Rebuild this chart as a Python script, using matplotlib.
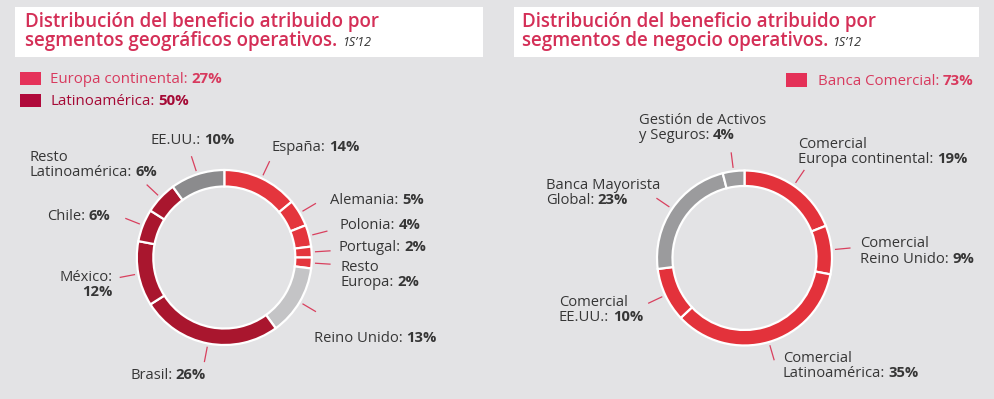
import matplotlib
matplotlib.use('Agg')
import matplotlib.pyplot as plt
from matplotlib.patches import Rectangle
import numpy as np

plt.rcParams['font.family'] = ['Open Sans', 'DejaVu Sans']

W, H = 994, 399

# ---- data ----
geo_names = ['España', 'Alemania', 'Polonia', 'Portugal', 'Resto\nEuropa',
             'Reino Unido', 'Brasil', 'México', 'Chile',
             'Resto\nLatinoamérica', 'EE.UU.']
geo_values = [14, 5, 4, 2, 2, 13, 26, 12, 6, 6, 10]
geo_groups = ['eu', 'eu', 'eu', 'eu', 'eu', 'uk', 'la', 'la', 'la', 'la', 'us']

biz_names = ['Comercial\nEuropa continental', 'Comercial\nReino Unido',
             'Comercial\nLatinoamérica', 'Comercial\nEE.UU.',
             'Banca Mayorista\nGlobal', 'Gestión de Activos\ny Seguros']
biz_values = [19, 9, 35, 10, 23, 4]
biz_groups = ['com', 'com', 'com', 'com', 'gbm', 'gbm']

geo_legend = [('Europa continental', 27), ('Latinoamérica', 50)]
biz_legend = [('Banca Comercial', 73)]

title1 = 'Distribución del beneficio atribuido por'
title_geo = 'segmentos geográficos operativos.'
title_biz = 'segmentos de negocio operativos.'
period = '1S’12'

# ---- styles ----
BG = '#e3e3e5'
TITLE_C = '#d42f57'
TEXT_C = '#363636'
LEADER_C = '#d9405e'
geo_cmap = {'eu': '#e4353d', 'uk': '#c4c4c6', 'la': '#a9162e', 'us': '#8b8b8d'}
biz_cmap = {'com': '#e3323b', 'gbm': '#9b9b9d'}

LBL = 10.6   # label size (pt)
LINE = 15.3  # line spacing px

fig = plt.figure(figsize=(W / 100, H / 100), dpi=100, facecolor=BG)
ax = fig.add_axes([0, 0, 1, 1])
ax.set_facecolor(BG)
renderer = fig.canvas.get_renderer()


def put(x, y, parts, ha='left'):
    # parts: (text, size, weight, style, color); y = pixel from top (baseline)
    ts = []
    for s, size, weight, style, color in parts:
        t = ax.text(0, 0, s, fontsize=size, fontweight=weight, fontstyle=style,
                    color=color, va='baseline', ha='left')
        ts.append((t, size))
    widths = [t.get_window_extent(renderer).width for t, _ in ts]
    gaps = [0.24 * size * 100 / 72 for _, size in ts]
    total = sum(widths) + sum(gaps[:-1])
    x0 = x - total if ha == 'right' else x
    for (t, _), w, g in zip(ts, widths, gaps):
        t.set_position((x0, H - y))
        x0 += w + g


def label(x, y, name, value, ha='left', split=False, color=TEXT_C):
    lines = name.split('\n')
    for i, ln in enumerate(lines[:-1]):
        put(x, y + i * LINE, [(ln, LBL, 'normal', 'normal', color)], ha)
    yl = y + (len(lines) - 1) * LINE
    if split:
        put(x, yl, [(lines[-1] + ':', LBL, 'normal', 'normal', color)], ha)
        put(x, yl + LINE, [(f'{value}%', LBL, 'bold', 'normal', color)], ha)
    else:
        put(x, yl, [(lines[-1] + ':', LBL, 'normal', 'normal', color),
                    (f'{value}%', LBL, 'bold', 'normal', color)], ha)


def donut(cx, cy, values, colors, R=87.5, width=16.5):
    wedges, _ = ax.pie(values, colors=colors, center=(cx, H - cy), radius=R,
                       startangle=90, counterclock=False,
                       wedgeprops=dict(width=width, edgecolor='white', linewidth=1.6))
    for w in wedges:
        a = np.deg2rad((w.theta1 + w.theta2) / 2)
        r = np.array([1.045, 1.21]) * R
        ax.plot(cx + r * np.cos(a), H - cy + r * np.sin(a), color=LEADER_C, lw=0.9)


# title boxes
for bx, bw, x, sub in [(15, 468, 25, title_geo), (514, 465, 521.5, title_biz)]:
    ax.add_patch(Rectangle((bx, H - 56.7), bw, 49.5, facecolor='white', edgecolor='none'))
    put(x, 26.7, [(title1, 13.5, 'semibold', 'normal', TITLE_C)])
    put(x, 46, [(sub, 13.5, 'semibold', 'normal', TITLE_C),
                (period, 9, 'normal', 'italic', '#333333')])

# legends
leg_geo_style = [('#e5325a', '#d83a5e'), ('#b00a3b', '#a50a36')]
for i, ((name, v), (sq, tc)) in enumerate(zip(geo_legend, leg_geo_style)):
    y0 = 72.3 + i * 22
    ax.add_patch(Rectangle((20, H - y0 - 12.7), 21, 12.7, facecolor=sq, edgecolor='none'))
    put(50, y0 + 11, [(name + ':', 10.8, 'normal', 'normal', tc),
                      (f'{v}%', 10.8, 'bold', 'normal', tc)])
for name, v in biz_legend:
    ax.add_patch(Rectangle((786, H - 86.7), 21.3, 13.4, facecolor='#e43158', edgecolor='none'))
    put(973.5, 85, [(name + ':', 10.8, 'normal', 'normal', '#d83a5e'),
                    (f'{v}%', 10.8, 'bold', 'normal', '#d83a5e')], ha='right')

# donuts
donut(224.3, 257.5, geo_values, [geo_cmap[g] for g in geo_groups])
donut(744.5, 258.0, biz_values, [biz_cmap[g] for g in biz_groups], width=15.5)

# labels (layout positions: x, first baseline, align, value on own line)
geo_pos = [(271.7, 151, 'left', False), (330, 204, 'left', False),
           (339.3, 229, 'left', False), (338.3, 251, 'left', False),
           (340, 271, 'left', False), (314.3, 341.7, 'left', False),
           (130, 379, 'left', False), (113, 281, 'right', True),
           (46.7, 220, 'left', False), (29.3, 160.7, 'left', False),
           (150.7, 144, 'left', False)]
for name, v, (x, y, ha, sp) in zip(geo_names, geo_values, geo_pos):
    label(x, y, name, v, ha, sp)

biz_pos = [(798.3, 147.7), (860, 247.3), (782.7, 361.7),
           (559, 305.7), (545.7, 189), (639, 124)]
for name, v, (x, y) in zip(biz_names, biz_values, biz_pos):
    label(x, y, name, v)

ax.set_xlim(0, W)
ax.set_ylim(0, H)
ax.set_aspect('auto')
ax.axis('off')

fig.savefig('out.png', dpi=100, facecolor=BG)
